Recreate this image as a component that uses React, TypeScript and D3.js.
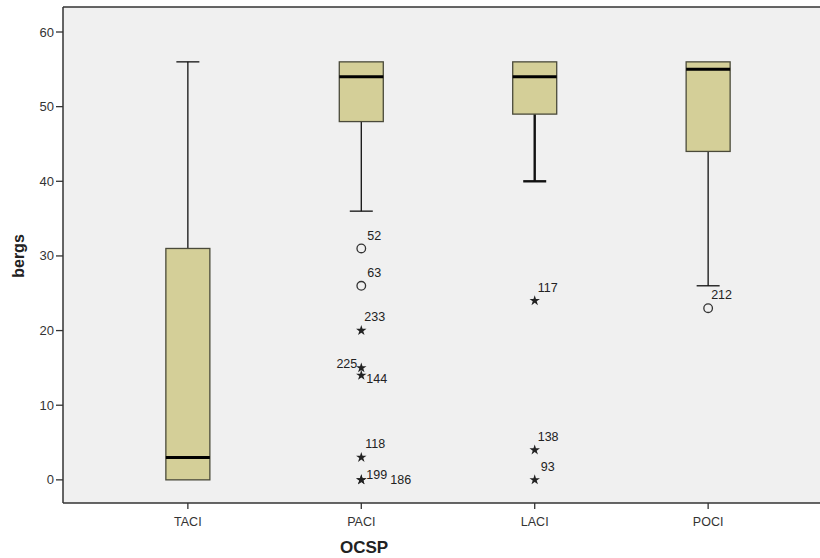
import React from "react";
import * as d3 from "d3";

const categories = ["TACI", "PACI", "LACI", "POCI"];
const whiskerHigh = [56, 56, 56, 56];
const q3 = [31, 56, 56, 56];
const medians = [3, 54, 54, 55];
const q1 = [0, 48, 49, 44];
const whiskerLow = [0, 36, 40, 26];

const outlierCat = ["PACI", "PACI", "PACI", "PACI", "PACI", "PACI", "PACI", "PACI", "LACI", "LACI", "LACI", "POCI"];
const outlierValue = [31, 26, 20, 15, 14, 3, 0, 0, 24, 4, 0, 23];
const outlierKind = ["circle", "circle", "star", "star", "star", "star", "star", "star", "star", "star", "star", "circle"];
const outlierLabel = ["52", "63", "233", "225", "144", "118", "199", "186", "117", "138", "93", "212"];

const yTicks = [0, 10, 20, 30, 40, 50, 60];
const yTitle = "bergs";
const xTitle = "OCSP";

// label placement (style only)
const labelOffset: Record<string, [number, number, string]> = {
  "52": [6, -8, "start"],
  "63": [6, -9, "start"],
  "233": [3, -10, "start"],
  "225": [-4, 0, "end"],
  "144": [5, 8, "start"],
  "118": [4, -9, "start"],
  "199": [5, -1, "start"],
  "186": [29, 4, "start"],
  "117": [3, -9, "start"],
  "138": [3, -9, "start"],
  "93": [6, -9, "start"],
  "212": [3, -9, "start"],
};

const W = 820;
const H = 558;
const left = 63;
const top = 7;
const bottom = 503;
const right = 833;

export default function App() {
  const y = d3.scaleLinear().domain([-3.1, 63.35]).range([bottom, top]);
  const x = d3.scalePoint<string>().domain(categories).range([left, right]).padding(0.72);
  const boxW = 44;
  const capW = 23;
  const star = d3.symbol().type(d3.symbolStar).size(34)() as string;
  const font = "'Liberation Sans', Arial, sans-serif";

  return (
    <svg width={W} height={H} style={{ position: "absolute", left: 0, top: 0, background: "#fff" }} fontFamily={font}>
      <rect x={left} y={top} width={right - left} height={bottom - top} fill="#f0f0f0" stroke="none" />
      {categories.map((c, i) => {
        const cx = x(c)!;
        const lacibold = c === "LACI";
        const ws = lacibold ? 2.4 : 1.3;
        return (
          <g key={c}>
            {whiskerHigh[i] > q3[i] && (
              <>
                <line x1={cx} x2={cx} y1={y(q3[i])} y2={y(whiskerHigh[i])} stroke="#111" strokeWidth={ws} />
                <line x1={cx - capW / 2} x2={cx + capW / 2} y1={y(whiskerHigh[i])} y2={y(whiskerHigh[i])} stroke="#111" strokeWidth={ws} />
              </>
            )}
            {whiskerLow[i] < q1[i] && (
              <>
                <line x1={cx} x2={cx} y1={y(q1[i])} y2={y(whiskerLow[i])} stroke="#111" strokeWidth={ws} />
                <line x1={cx - capW / 2} x2={cx + capW / 2} y1={y(whiskerLow[i])} y2={y(whiskerLow[i])} stroke="#111" strokeWidth={ws} />
              </>
            )}
            <rect
              x={cx - boxW / 2}
              y={y(q3[i])}
              width={boxW}
              height={y(q1[i]) - y(q3[i])}
              fill="#d4cf98"
              stroke="#4a4a3a"
              strokeWidth={1.3}
            />
            <line x1={cx - boxW / 2} x2={cx + boxW / 2} y1={y(medians[i])} y2={y(medians[i])} stroke="#000" strokeWidth={3} />
          </g>
        );
      })}
      {outlierValue.map((v, i) => {
        const cx = x(outlierCat[i])!;
        const cy = y(v);
        const off = labelOffset[outlierLabel[i]];
        return (
          <g key={i}>
            {outlierKind[i] === "circle" ? (
              <circle cx={cx} cy={cy} r={4.3} fill="none" stroke="#333" strokeWidth={1.3} />
            ) : (
              <path d={star} transform={`translate(${cx},${cy})`} fill="#222" />
            )}
            <text x={cx + off[0]} y={cy + off[1]} textAnchor={off[2] as any} fontSize={12.5} fill="#222">
              {outlierLabel[i]}
            </text>
          </g>
        );
      })}
      {/* frame */}
      <line x1={left} x2={left} y1={top} y2={bottom} stroke="#333" strokeWidth={1.5} />
      <line x1={left} x2={right} y1={top} y2={top} stroke="#333" strokeWidth={1.5} />
      <line x1={left} x2={right} y1={bottom} y2={bottom} stroke="#333" strokeWidth={1.5} />
      {/* y axis */}
      {yTicks.map((t) => (
        <g key={t}>
          <line x1={left - 7} x2={left} y1={y(t)} y2={y(t)} stroke="#333" strokeWidth={1.3} />
          <text x={left - 9} y={y(t) + 4.5} textAnchor="end" fontSize={13} fill="#333">
            {t}
          </text>
        </g>
      ))}
      {/* x axis */}
      {categories.map((c) => (
        <g key={c}>
          <line x1={x(c)!} x2={x(c)!} y1={bottom} y2={bottom + 6} stroke="#333" strokeWidth={1.3} />
          <text x={x(c)!} y={bottom + 23} textAnchor="middle" fontSize={12.5} fill="#333">
            {c}
          </text>
        </g>
      ))}
      <text x={364} y={553} textAnchor="middle" fontSize={17} fontWeight="bold" fill="#222">
        {xTitle}
      </text>
      <text transform={`translate(24,${256}) rotate(-90)`} textAnchor="middle" fontSize={16} fontWeight="bold" fill="#222">
        {yTitle}
      </text>
    </svg>
  );
}
